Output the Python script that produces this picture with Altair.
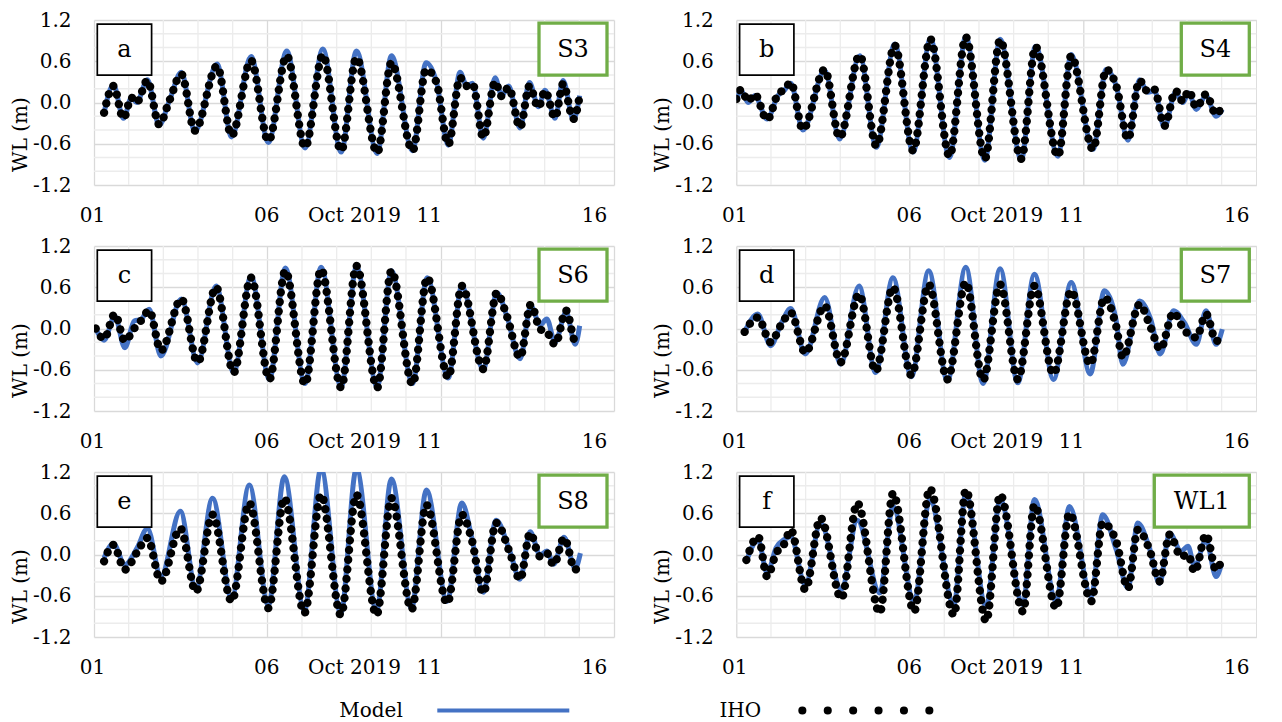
import altair as alt
import pandas as pd

FONT = "DejaVu Serif"
BLUE = "#4472C4"
GREEN = "#70AD47"
TXT = "#000000"
W, H = 520, 165
FS = 20

x_ticks = [1, 6, 11, 16]
y_ticks = [-1.2, -0.6, 0.0, 0.6, 1.2]
minor_days = [2, 3, 4, 5, 7, 8, 9, 10, 12, 13, 14, 15]
minor_wl = [-1.0, -0.8, -0.4, -0.2, 0.2, 0.4, 0.8, 1.0]
x_caption = "Oct 2019"
y_title = "WL (m)"
letters = ["a", "b", "c", "d", "e", "f"]
stations = ["S3", "S4", "S6", "S7", "S8", "WL1"]
legend_names = ["Model", "IHO"]

# ---- panel a (S3) ----
t_a = [1.29, 1.56, 1.85, 2.08, 2.23, 2.54, 2.88, 3.17, 3.52, 3.91, 4.55, 4.97, 5.53, 6.03, 6.56, 7.09, 7.60, 8.13, 8.57, 9.17,
       9.58, 10.19, 10.58, 10.88, 11.22, 11.56, 11.75, 11.92, 12.23, 12.57, 12.76, 12.96, 13.29, 13.56, 13.82, 14.01, 14.30, 14.53, 14.83, 15.01]
iho_a = [-0.15, 0.24, -0.23, 0.07, 0.00, 0.32, -0.32, 0.02, 0.41, -0.41, 0.53, -0.48, 0.61, -0.56, 0.68, -0.65, 0.69, -0.70, 0.65, -0.73,
         0.58, -0.70, 0.48, 0.29, -0.61, 0.36, 0.24, 0.27, -0.51, 0.30, 0.09, 0.22, -0.36, 0.24, -0.07, 0.17, -0.22, 0.27, -0.24, 0.10]
model_a = [-0.15, 0.26, -0.23, 0.07, 0.00, 0.33, -0.33, 0.02, 0.44, -0.42, 0.56, -0.50, 0.67, -0.58, 0.75, -0.66, 0.78, -0.72, 0.75, -0.74,
           0.68, -0.70, 0.58, 0.30, -0.62, 0.44, 0.24, 0.28, -0.52, 0.36, 0.10, 0.24, -0.37, 0.29, -0.06, 0.18, -0.23, 0.32, -0.25, 0.10]

# ---- panel b (S4) ----
t_b = [1.00, 1.14, 1.34, 1.53, 1.89, 2.20, 2.39, 2.57, 2.92, 3.55, 3.98, 4.56, 5.04, 5.57, 6.10, 6.60, 7.15, 7.62, 8.17, 8.61,
       9.22, 9.63, 10.28, 10.66, 11.29, 11.67, 11.96, 12.30, 12.63, 12.87, 13.06, 13.35, 13.67, 13.88, 14.05, 14.27, 14.55, 14.84, 15.02]
iho_b = [0.05, 0.19, 0.02, 0.12, -0.25, 0.12, 0.19, 0.29, -0.39, 0.48, -0.51, 0.69, -0.63, 0.83, -0.70, 0.92, -0.78, 0.95, -0.82, 0.91,
         -0.82, 0.81, -0.78, 0.68, -0.68, 0.48, 0.24, -0.53, 0.32, 0.16, 0.19, -0.34, 0.17, 0.02, 0.17, -0.07, 0.12, -0.17, -0.04]
model_b = [0.03, 0.17, 0.00, 0.10, -0.24, 0.10, 0.18, 0.28, -0.40, 0.47, -0.53, 0.68, -0.65, 0.85, -0.72, 0.93, -0.80, 0.96, -0.84, 0.92,
           -0.83, 0.82, -0.78, 0.70, -0.68, 0.48, 0.24, -0.55, 0.33, 0.15, 0.17, -0.36, 0.15, 0.00, 0.14, -0.10, 0.10, -0.20, -0.10]

# ---- panel c (S6) ----
t_c = [1.05, 1.29, 1.60, 1.89, 2.16, 2.35, 2.59, 2.93, 3.52, 3.99, 4.52, 5.03, 5.53, 6.06, 6.52, 7.09, 7.55, 8.13, 8.57, 9.17,
       9.58, 10.19, 10.61, 11.22, 11.61, 12.23, 12.62, 12.91, 13.29, 13.60, 13.87, 14.06, 14.30, 14.62, 14.88, 15.01]
iho_c = [0.00, -0.15, 0.21, -0.18, 0.00, 0.11, 0.26, -0.32, 0.43, -0.49, 0.60, -0.64, 0.74, -0.74, 0.84, -0.81, 0.86, -0.86, 0.91, -0.86,
         0.84, -0.81, 0.74, -0.71, 0.62, -0.59, 0.52, 0.18, -0.42, 0.35, -0.01, -0.05, -0.23, 0.26, -0.18, -0.13]
model_c = [0.00, -0.17, 0.18, -0.28, 0.11, 0.13, 0.28, -0.40, 0.43, -0.50, 0.62, -0.64, 0.76, -0.74, 0.88, -0.80, 0.89, -0.85, 0.90, -0.85,
           0.84, -0.80, 0.74, -0.72, 0.62, -0.60, 0.52, 0.18, -0.44, 0.33, 0.05, 0.14, -0.20, 0.24, -0.23, 0.04]

# ---- panel d (S7) ----
t_d = [1.24, 1.62, 1.99, 2.30, 2.57, 2.99, 3.55, 4.01, 4.54, 5.02, 5.52, 6.05, 6.55, 7.09, 7.62, 8.12, 8.61, 9.12, 9.60, 10.15,
       10.66, 11.21, 11.62, 11.95, 12.15, 12.63, 12.95, 13.23, 13.61, 13.93, 14.27, 14.55, 14.84, 15.02]
iho_d = [-0.05, 0.16, -0.20, 0.06, 0.23, -0.35, 0.33, -0.49, 0.50, -0.62, 0.60, -0.68, 0.64, -0.74, 0.67, -0.75, 0.64, -0.74, 0.62, -0.66,
         0.55, -0.52, 0.45, 0.05, -0.42, 0.35, 0.02, -0.30, 0.23, -0.03, -0.13, 0.21, -0.18, -0.16]
model_d = [-0.05, 0.21, -0.25, 0.08, 0.29, -0.37, 0.45, -0.52, 0.62, -0.64, 0.74, -0.70, 0.84, -0.76, 0.89, -0.80, 0.87, -0.79, 0.79, -0.74,
           0.67, -0.66, 0.55, 0.14, -0.52, 0.40, 0.14, -0.37, 0.26, 0.08, -0.23, 0.26, -0.23, -0.01]

# ---- panel e (S8) ----
t_e = [1.29, 1.56, 1.89, 2.25, 2.54, 2.93, 3.49, 3.94, 4.42, 4.97, 5.48, 6.03, 6.49, 7.07, 7.55, 8.12, 8.57, 9.15, 9.58, 10.16,
       10.59, 11.19, 11.61, 11.90, 12.23, 12.60, 13.00, 13.29, 13.58, 13.87, 14.06, 14.26, 14.56, 14.88, 15.03]
iho_e = [-0.10, 0.14, -0.22, 0.04, 0.24, -0.39, 0.38, -0.54, 0.58, -0.68, 0.75, -0.78, 0.82, -0.85, 0.87, -0.88, 0.87, -0.88, 0.82, -0.80,
         0.72, -0.71, 0.58, 0.21, -0.56, 0.46, 0.02, -0.36, 0.31, -0.03, 0.02, -0.15, 0.24, -0.22, -0.10]
model_e = [-0.05, 0.16, -0.15, 0.10, 0.38, -0.32, 0.63, -0.50, 0.82, -0.64, 1.01, -0.74, 1.13, -0.82, 1.25, -0.86, 1.25, -0.82, 1.10, -0.78,
           0.94, -0.68, 0.75, 0.24, -0.55, 0.50, 0.04, -0.36, 0.33, -0.01, 0.05, -0.14, 0.25, -0.20, 0.02]

# ---- panel f (WL1) ----
t_f = [1.29, 1.63, 1.89, 2.15, 2.39, 2.57, 2.99, 3.43, 4.03, 4.49, 5.14, 5.52, 6.13, 6.58, 7.28, 7.62, 8.21, 8.61, 9.27, 9.60,
       10.23, 10.61, 11.24, 11.57, 11.96, 12.30, 12.58, 12.92, 13.21, 13.50, 13.83, 14.03, 14.22, 14.55, 14.84, 14.99]
iho_f = [-0.08, 0.26, -0.32, 0.02, 0.16, 0.36, -0.51, 0.53, -0.64, 0.75, -0.85, 0.89, -0.83, 0.96, -0.88, 0.94, -0.97, 0.87, -0.83, 0.72,
         -0.78, 0.60, -0.68, 0.46, 0.19, -0.49, 0.36, 0.07, -0.39, 0.29, -0.03, 0.00, -0.25, 0.29, -0.22, -0.10]
model_f = [-0.10, 0.21, -0.27, 0.10, 0.22, 0.26, -0.44, 0.46, -0.51, 0.50, -0.56, 0.70, -0.68, 0.80, -0.73, 0.89, -0.76, 0.80, -0.73, 0.80,
           -0.68, 0.70, -0.61, 0.58, 0.07, -0.49, 0.46, 0.09, -0.42, 0.31, 0.05, 0.12, -0.17, 0.21, -0.32, -0.15]

series = [(t_a, model_a, iho_a), (t_b, model_b, iho_b), (t_c, model_c, iho_c),
          (t_d, model_d, iho_d), (t_e, model_e, iho_e), (t_f, model_f, iho_f)]
station_box_w = [68, 68, 68, 68, 68, 95]

one = pd.DataFrame({"k": [0]})
xs = alt.Scale(domain=[1, 16], nice=False, zero=False)
ys = alt.Scale(domain=[-1.2, 1.2], nice=False, zero=False)

# tick labels sit slightly left of their gridlines in the reference
x_label_offset = {"condition": [{"test": "datum.value == 1", "value": -2},
                                {"test": "datum.value == 6", "value": -1},
                                {"test": "datum.value == 11", "value": -12},
                                {"test": "datum.value == 16", "value": -20}],
                  "value": 0}

xaxis = alt.Axis(values=x_ticks, format="02d", grid=True, gridColor="#d9d9d9", gridWidth=1.3,
                 domain=False, ticks=False, tickSize=0, labelFont=FONT, labelFontSize=FS,
                 labelColor=TXT, labelPadding=30, labelBaseline="middle", labelFlush=False,
                 labelOffset=x_label_offset,
                 title=x_caption, titleFont=FONT, titleFontSize=FS, titleFontWeight="normal",
                 titleColor=TXT, titleX=(8.5 - 1) / 15 * W, titleY=30, titleBaseline="middle",
                 titleAlign="center")
yaxis = alt.Axis(values=y_ticks, grid=True, gridColor="#d9d9d9", gridWidth=1.3, domain=False,
                 ticks=False, tickSize=0, labelFont=FONT, labelFontSize=FS, labelColor=TXT,
                 labelPadding=23, labelBaseline="middle", labelFlush=False,
                 labelExpr="datum.value < 0 ? '-' + format(-datum.value, '.1f') : format(datum.value, '.1f')",
                 title=y_title, titleFont=FONT, titleFontSize=FS, titleFontWeight="normal",
                 titleColor=TXT, titleAngle=270, titleX=-74, titleY=114,
                 titleBaseline="middle", titleAlign="center")


def make_panel(letter, station, t, model, iho, sw):
    df = pd.DataFrame({"t": t, "model": model, "iho": iho})
    gx = alt.Chart(pd.DataFrame({"d": minor_days})).mark_rule(color="#ececec", strokeWidth=1.3).encode(
        x=alt.X("d:Q", scale=xs, axis=xaxis))
    gy = alt.Chart(pd.DataFrame({"w": minor_wl})).mark_rule(color="#ececec", strokeWidth=1.3).encode(
        y=alt.Y("w:Q", scale=ys, axis=yaxis))
    mline = alt.Chart(df).mark_line(color=BLUE, strokeWidth=5, interpolate="monotone", clip=True).encode(
        x=alt.X("t:Q", scale=xs, axis=xaxis), y=alt.Y("model:Q", scale=ys, axis=yaxis))
    iline = alt.Chart(df).mark_line(color="black", strokeWidth=8.3, strokeDash=[0.1, 9.5], strokeCap="round",
                                    interpolate="monotone", clip=True).encode(
        x=alt.X("t:Q", scale=xs, axis=xaxis), y=alt.Y("iho:Q", scale=ys, axis=yaxis))
    lbox = alt.Chart(one).mark_rect(fill="white", stroke="black", strokeWidth=1.7).encode(
        x=alt.value(3.3), x2=alt.value(57.6), y=alt.value(4.2), y2=alt.value(55.2))
    ltxt = alt.Chart(one).mark_text(text=letter, font=FONT, fontSize=24, color="black", align="center",
                                    baseline="middle").encode(x=alt.value(30.4), y=alt.value(29.7))
    sbox = alt.Chart(one).mark_rect(fill="white", stroke=GREEN, strokeWidth=3.3).encode(
        x=alt.value(W - 7 - sw), x2=alt.value(W - 7), y=alt.value(3.2), y2=alt.value(55.2))
    stxt = alt.Chart(one).mark_text(text=station, font=FONT, fontSize=24, color="black", align="center",
                                    baseline="middle").encode(x=alt.value(W - 7 - sw / 2), y=alt.value(29.7))
    return alt.layer(gx, gy, mline, iline, lbox, ltxt, sbox, stxt).properties(width=W, height=H)


panels = [make_panel(letters[i], stations[i], *series[i], station_box_w[i]) for i in range(6)]

legend = alt.layer(
    alt.Chart(one).mark_text(text=legend_names[0], font=FONT, fontSize=FS, color="black", align="center",
                             baseline="middle").encode(x=alt.value(277), y=alt.value(12.5)),
    alt.Chart(one).mark_rule(color=BLUE, strokeWidth=4).encode(
        x=alt.value(343.3), x2=alt.value(475.3), y=alt.value(12.5)),
    alt.Chart(one).mark_text(text=legend_names[1], font=FONT, fontSize=FS, color="black", align="center",
                             baseline="middle").encode(x=alt.value(646.3), y=alt.value(12.5)),
    alt.Chart(one).mark_rule(color="black", strokeWidth=8, strokeDash=[0.1, 25.3], strokeCap="round").encode(
        x=alt.value(708.3), x2=alt.value(835.4), y=alt.value(12.5)),
).properties(width=W, height=25)

chart = alt.concat(*panels, legend, columns=2, spacing={"row": 61, "column": 122.3}, bounds="flush").properties(
    padding={"top": 2, "left": 2, "right": 0, "bottom": 0}).configure_view(stroke=None)

chart.save("out.html", embed_options={"renderer": "svg", "actions": False})
